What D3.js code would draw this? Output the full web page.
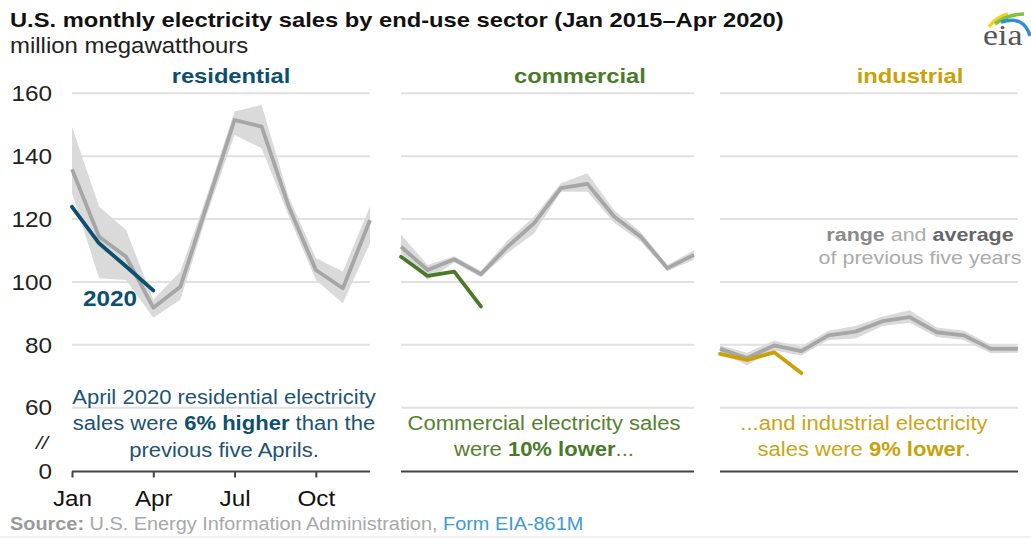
<!DOCTYPE html>
<html>
<head>
<meta charset="utf-8">
<script src="https://cdn.jsdelivr.net/npm/d3@7/dist/d3.min.js"></script>
<style>
  html, body { margin: 0; padding: 0; background: #fff; }
  svg { display: block; font-family: "Liberation Sans", Arial, sans-serif; }
</style>
</head>
<body>
<svg id="chart" width="1031" height="538"></svg>
<script>
// Monthly electricity sales, million MWh
const months = ["Jan","Feb","Mar","Apr","May","Jun","Jul","Aug","Sep","Oct","Nov","Dec"];
const monthTicks = ["Jan","Apr","Jul","Oct"];
const yTicks = [60, 80, 100, 120, 140, 160];

// residential: 2015–2019 low / average / high, and 2020
const resLow  = [128.2, 101.2, 100.6, 88.6, 94.3, 122.0, 146.7, 142.5, 121.0, 100.6, 93.2, 112.3];
const resAvg  = [135.8, 114.4, 108.0, 91.8, 98.5, 125.0, 151.5, 149.4, 124.0, 103.8, 98.0, 119.7];
const resHigh = [149.4, 123.9, 116.5, 94.3, 103.3, 128.0, 154.2, 156.3, 127.0, 107.6, 103.3, 124.0];
const res2020 = [123.9, 112.3, 104.9, 97.3];

// commercial
const comLow  = [109.1, 100.6, 106.2, 101.5, 109.2, 115.5, 128.7, 128.7, 118.8, 112.9, 103.4, 107.1];
const comAvg  = [111.2, 103.8, 107.2, 102.5, 111.2, 118.7, 129.8, 131.2, 120.8, 114.4, 104.4, 108.6];
const comHigh = [115.0, 105.4, 108.2, 103.5, 113.2, 120.8, 131.4, 134.6, 122.8, 115.9, 105.4, 110.1];
const com2020 = [108.0, 101.9, 103.3, 92.2];

// industrial
const indLow  = [77.6, 73.5, 78.3, 76.6, 81.5, 82.0, 86.0, 87.0, 82.5, 81.5, 77.3, 77.5];
const indAvg  = [78.7, 75.8, 79.8, 78.0, 83.0, 84.2, 87.5, 88.8, 84.0, 83.0, 78.7, 78.7];
const indHigh = [79.8, 77.5, 81.3, 79.5, 84.5, 86.0, 89.0, 91.0, 85.5, 84.5, 80.0, 79.8];
const ind2020 = [77.1, 75.2, 77.6, 71.0];

const sectors = [
  { name: "residential", color: "#0d4f6e", noteColor: "#1d5373", low: resLow, avg: resAvg, high: resHigh, cur: res2020,
    x0: 72, x1: 370, titleX: 231, ticks: true,
    note: { cx: 224, y: 404, lines: [
      [["April 2020 residential electricity", false]],
      [["sales were ", false], ["6% higher", true], [" than the", false]],
      [["previous five Aprils.", false]] ] } },
  { name: "commercial", color: "#4a7a29", noteColor: "#55822f", low: comLow, avg: comAvg, high: comHigh, cur: com2020,
    x0: 401, x1: 694, titleX: 580, ticks: false,
    note: { cx: 544, y: 430, lines: [
      [["Commercial electricity sales", false]],
      [["were ", false], ["10% lower", true], ["...", false]] ] } },
  { name: "industrial", color: "#c9a108", noteColor: "#cba515", low: indLow, avg: indAvg, high: indHigh, cur: ind2020,
    x0: 720, x1: 1018, titleX: 910, ticks: false,
    note: { cx: 864, y: 430, lines: [
      [["...and industrial electricity", false]],
      [["sales were ", false], ["9% lower", true], [".", false]] ] } }
];

// text is set slightly wide
const SX = 1.13;
function label(parent, x, y, size, anchor) {
  return parent.append("g").attr("transform", `translate(${x},${y}) scale(${SX},1)`)
    .append("text").attr("font-size", size).attr("text-anchor", anchor || "start");
}

const svg = d3.select("#chart");

// Broken value axis: 0 sits one step below 60
const y = d3.scaleLinear().domain([0, 60, 160]).range([471.5, 407.7, 93.3]);

// Title block
label(svg, 10, 27, 21).attr("font-weight", "bold").attr("fill", "#111")
  .text("U.S. monthly electricity sales by end-use sector (Jan 2015\u2013Apr 2020)");
label(svg, 10, 53, 21.2).attr("fill", "#222").text("million megawatthours");

// Value axis labels
const yAxisG = svg.append("g").attr("fill", "#222");
[0].concat(yTicks).forEach(v => {
  label(yAxisG, 52, y(v), 21.5, "end").attr("dy", "0.36em").text(v);
});
label(yAxisG, 48, y(30) + 3, 19, "end").attr("dy", "0.36em").attr("font-style", "italic").text("//");

sectors.forEach(s => {
  const x = d3.scalePoint().domain(months).range([s.x0, s.x1]);
  const g = svg.append("g");

  // gridlines
  g.selectAll("line.grid").data(yTicks).join("line")
    .attr("x1", s.x0).attr("x2", s.x1)
    .attr("y1", d => y(d)).attr("y2", d => y(d))
    .attr("stroke", "#e1e1e1").attr("stroke-width", 2);

  // baseline
  g.append("line").attr("x1", s.x0).attr("x2", s.x1)
    .attr("y1", y(0)).attr("y2", y(0))
    .attr("stroke", "#444").attr("stroke-width", 2);

  if (s.ticks) {
    const xAxis = d3.axisBottom(x).tickValues(monthTicks).tickSize(6).tickPadding(13).tickSizeOuter(0);
    const ax = g.append("g").attr("transform", `translate(0,${y(0)})`).call(xAxis);
    ax.select(".domain").remove();
    ax.selectAll(".tick line").attr("stroke", "#444").attr("stroke-width", 2);
    ax.selectAll(".tick text").attr("font-size", 21.5).attr("fill", "#111")
      .attr("font-family", "'Liberation Sans', Arial, sans-serif")
      .attr("transform", `scale(${SX},1)`);
  }

  // range band of previous five years
  const area = d3.area()
    .x((d, i) => x(months[i]))
    .y0((d, i) => y(s.low[i]))
    .y1((d, i) => y(s.high[i]));
  g.append("path").datum(s.avg).attr("d", area).attr("fill", "#dadada");

  // five-year average
  const line = d3.line().x((d, i) => x(months[i])).y(d => y(d));
  g.append("path").datum(s.avg).attr("d", line)
    .attr("fill", "none").attr("stroke", "#a6a6a6").attr("stroke-width", 3.8)
    .attr("stroke-linejoin", "round");

  // 2020
  g.append("path").datum(s.cur).attr("d", line)
    .attr("fill", "none").attr("stroke", s.color).attr("stroke-width", 3.8)
    .attr("stroke-linejoin", "round").attr("stroke-linecap", "round");

  // panel title
  label(g, s.titleX, 83, 21, "middle").attr("font-weight", "bold").attr("fill", s.color).text(s.name);

  // annotation
  s.note.lines.forEach((parts, li) => {
    const t = label(g, s.note.cx, s.note.y + li * 26.3, 19.5, "middle").attr("fill", s.noteColor);
    parts.forEach(([str, bold]) => {
      t.append("tspan").attr("font-weight", bold ? "bold" : "normal")
        .attr("fill", bold ? s.color : null).text(str);
    });
  });
});

// "2020" label on residential line
label(svg, 110, 306, 21.5, "middle").attr("font-weight", "bold").attr("fill", sectors[0].color).text("2020");

// legend for the gray band and line
const leg1 = label(svg, 920, 241, 19, "middle");
leg1.append("tspan").attr("font-weight", "bold").attr("fill", "#8a8a8a").text("range");
leg1.append("tspan").attr("fill", "#ababab").text(" and ");
leg1.append("tspan").attr("font-weight", "bold").attr("fill", "#666").text("average");
label(svg, 920, 264, 19, "middle").attr("fill", "#ababab").text("of previous five years");

// source line
const src = label(svg, 10, 530, 17.6);
src.append("tspan").attr("font-weight", "bold").attr("fill", "#9a9a9a").text("Source:");
src.append("tspan").attr("fill", "#a8a8a8").text(" U.S. Energy Information Administration, ");
src.append("tspan").attr("fill", "#3d9ad6").text("Form EIA-861M");
svg.append("line").attr("x1", 0).attr("x2", 1031).attr("y1", 537).attr("y2", 537)
  .attr("stroke", "#e4e4e4").attr("stroke-width", 1);

// eia mark
const logo = svg.append("g");
logo.append("path").attr("d", "M989,27 Q996,17 1008,14").attr("fill", "none").attr("stroke", "#f2d21c").attr("stroke-width", 3.5);
logo.append("path").attr("d", "M995,24 Q1008,14 1024,14").attr("fill", "none").attr("stroke", "#80c342").attr("stroke-width", 3.5);
logo.append("path").attr("d", "M1001,22 Q1024,15 1030,36").attr("fill", "none").attr("stroke", "#2f8fd0").attr("stroke-width", 3.5);
label(logo, 983, 45, 30).attr("font-family", "'Liberation Serif', 'DejaVu Serif', serif")
  .attr("fill", "#555").text("eia");
</script>
</body>
</html>
